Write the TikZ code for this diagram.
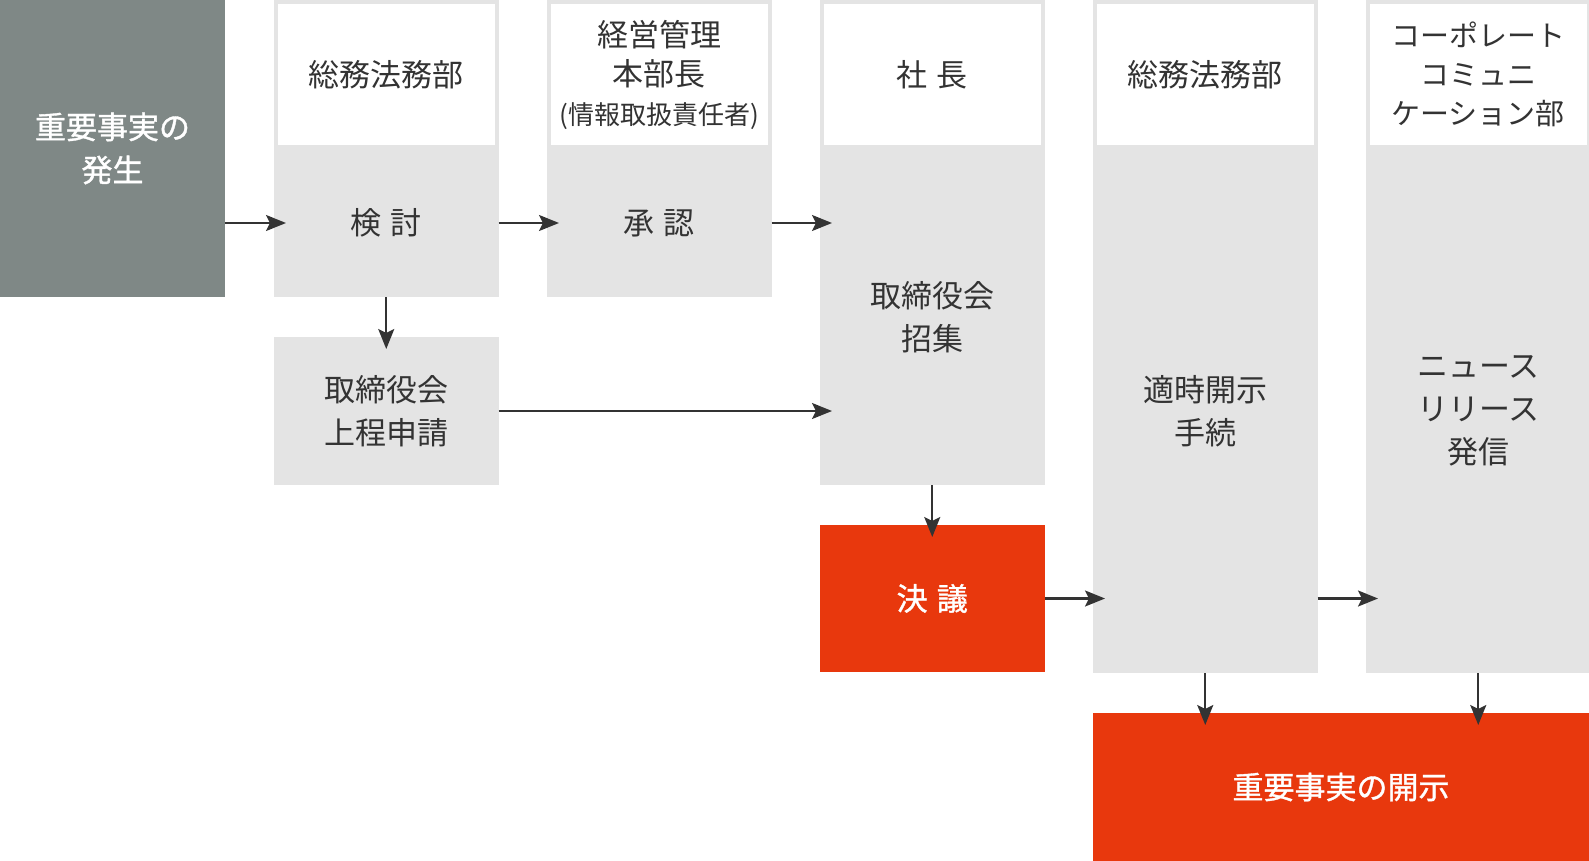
\documentclass[tikz,border=0pt]{standalone}
\usepackage{fontspec}
\setmainfont{Noto Sans CJK JP}
\newfontfamily\medfont{Noto Sans CJK JP}[FakeBold=1.2]
\usetikzlibrary{arrows.meta}
\definecolor{darkbox}{HTML}{7F8886}
\definecolor{lightbox}{HTML}{E4E4E4}
\definecolor{hotred}{HTML}{E8380D}
\definecolor{ink}{HTML}{333333}
\begin{document}
\begin{tikzpicture}[x=1pt, y=-1pt,
  box/.style={anchor=north west, inner sep=0pt, outer sep=0pt, minimum width=224.5pt,
    align=center, text=ink, font=\fontsize{31}{43}\selectfont},
  body/.style={box, fill=lightbox},
  head/.style={box, fill=white, draw=lightbox, line width=4pt, outer sep=2pt,
    minimum width=220.5pt, minimum height=145pt, font=\fontsize{31}{39}\selectfont},
  hot/.style={box, fill=hotred, text=white, font=\fontsize{31}{43}\medfont},
  flow/.style={draw=ink, line width=2.2pt, -{Stealth[length=20pt, width=16pt, inset=4pt]},
    shorten >=-12pt}]
\useasboundingbox (0,0) rectangle (1589,861);
\node[box, fill=darkbox, text=white, font=\fontsize{31}{43}\medfont, minimum width=225pt, minimum height=297pt] (start) at (0,0) {重要事実の\\発生};
\node[head] (h1) at (274,0) {総務法務部};
\node[head] (h2) at (547,0) {経営管理\\本部長\\{\fontsize{26}{30}\selectfont(情報取扱責任者)}};
\node[head] (h3) at (820,0) {社\hspace{.3em}長};
\node[head] (h4) at (1093,0) {総務法務部};
\node[head, font=\fontsize{29}{39}\selectfont] (h5) at (1366,0) {コーポレート\\コミュニ\\ケーション部};
\node[body, minimum height=148pt] (review) at (274,149) {検\hspace{.3em}討};
\node[body, minimum height=148pt] (approve) at (547,149) {承\hspace{.3em}認};
\node[body, minimum height=336pt] (convene) at (820,149) {取締役会\\招集};
\node[body, minimum height=524pt] (disclose) at (1093,149) {適時開示\\手続};
\node[body, minimum height=524pt] (release) at (1366,149) {ニュース\\リリース\\発信};
\node[body, minimum height=148pt] (propose) at (274,337) {取締役会\\上程申請};
\node[hot, minimum height=147pt] (resolve) at (820,525) {決\hspace{.3em}議};
\node[hot, minimum width=496pt, minimum height=148pt] (final) at (1093,713) {重要事実の開示};
\draw[flow] (start.east |- review.center) -- (review.west);
\draw[flow] (review.east) -- (approve.west);
\draw[flow] (approve.east) -- (approve.east -| convene.west);
\draw[flow] (review.south) -- (propose.north);
\draw[flow] (propose.east) -- (propose.east -| convene.west);
\draw[flow] (convene.south) -- (resolve.north);
\draw[flow] (resolve.east) -- (resolve.east -| disclose.west);
\draw[flow] (resolve.east -| disclose.east) -- (resolve.east -| release.west);
\draw[flow] (disclose.south) -- (disclose.south |- final.north);
\draw[flow] (release.south) -- (release.south |- final.north);
\end{tikzpicture}
\end{document}
